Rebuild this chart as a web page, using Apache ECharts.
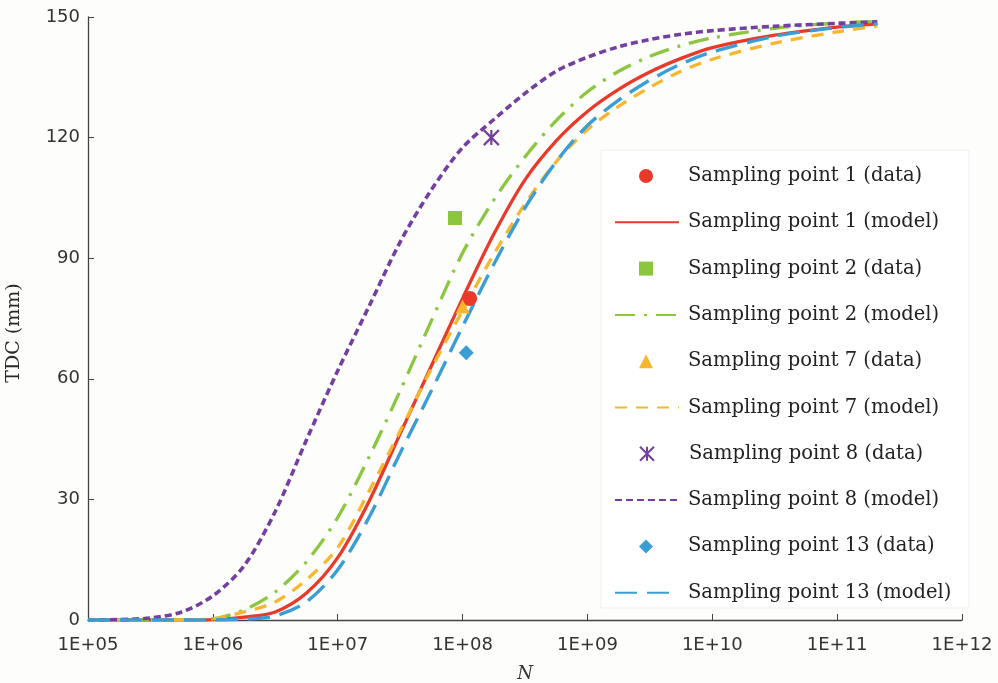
<!DOCTYPE html>
<html>
<head>
<meta charset="utf-8">
<script src="https://cdn.jsdelivr.net/npm/echarts@6/dist/echarts.min.js"></script>
<style>
html,body{margin:0;padding:0;background:#fdfdfb;}
#chart{width:998px;height:683px;}
</style>
</head>
<body>
<div id="chart"></div>
<script>
// Cycle counts N (log-spaced grid of model curves)
var modelN = [1e5, 1.78e5, 3.16e5, 5.62e5, 1e6, 1.78e6, 3.16e6, 5.62e6, 1e7, 1.78e7, 3.16e7, 5.62e7,
              1e8, 1.78e8, 3.16e8, 5.62e8, 1e9, 1.78e9, 3.16e9, 5.62e9, 1e10, 3.16e10, 1e11, 2.1e11];
// Model TDC (mm)
var sp1Model  = [0, 0, 0, 0, 0.1, 0.7, 2, 6.7, 15.5, 29.5, 46.3, 63.2, 80, 96, 109.5, 119.2, 126.5, 132, 136.3, 139.7, 142.4, 145.5, 147.5, 148.3];
var sp2Model  = [0, 0, 0, 0, 0.3, 2.5, 7, 14.5, 25.5, 40.5, 57, 74.4, 91.3, 104.5, 115.2, 124.2, 131.4, 136.5, 140.2, 142.9, 144.8, 147.2, 148.5, 148.9];
var sp7Model  = [0, 0, 0, 0, 0.3, 2, 4.5, 10, 18, 32, 47, 62.5, 77, 91, 103.5, 114, 122, 127.8, 132.5, 136.5, 139.5, 143.5, 146.3, 147.8];
var sp8Model  = [0, 0.1, 0.5, 2, 6, 13.5, 27, 44.8, 62, 78, 94, 107, 117.5, 124.5, 131, 136.5, 140, 142.6, 144.4, 145.7, 146.6, 147.7, 148.4, 148.8];
var sp13Model = [0, 0, 0, 0, 0, 0.2, 1, 4.5, 12.5, 25.5, 41.5, 57, 73, 88.5, 102.5, 114, 123, 129.3, 134.3, 138.3, 141.3, 145.2, 147.4, 148.3];
// Measured data points [N, TDC]
var sp1Data  = [[1.14e8, 80]];
var sp2Data  = [[8.7e7, 100]];
var sp7Data  = [[1.0e8, 78]];
var sp8Data  = [[1.7e8, 120]];
var sp13Data = [[1.07e8, 66.5]];
// Axis ticks
var yTicks = [0, 30, 60, 90, 120, 150];
var seriesNames = ['Sampling point 1 (data)','Sampling point 1 (model)','Sampling point 2 (data)','Sampling point 2 (model)',
                   'Sampling point 7 (data)','Sampling point 7 (model)','Sampling point 8 (data)','Sampling point 8 (model)',
                   'Sampling point 13 (data)','Sampling point 13 (model)'];

var C = {red:'#e8392b', green:'#8cc63e', yellow:'#f6b72e', purple:'#7440a0', blue:'#3a9ed4'};

function pairs(arr){ return modelN.map(function(n,i){ return [n, arr[i]]; }); }

function modelSeries(name, arr, color, type, width){
  return {name:name, type:'line', data:pairs(arr), symbol:'none', smooth:0.3,
    lineStyle:{color:color, width:width, type:type, cap:'butt'}, itemStyle:{color:color}, z:3};
}
function dataSeries(name, arr, color, symbol, size, extra){
  var s = {name:name, type:'scatter', data:arr, symbol:symbol, symbolSize:size,
    itemStyle:{color:color, opacity:1}, z:5};
  if (extra) s.itemStyle = extra;
  return s;
}
var asterisk = 'path://M0,0 L10,10 M10,0 L0,10 M5,0 L5,10';

// one legend per row so that markers keep their shapes
var legends = seriesNames.map(function(name, i){
  var isData = i % 2 === 0;
  var cy = 176 + i * 46.3;
  var item = {name:name};
  if (!isData) item.itemStyle = {opacity:0};
  return {
    orient:'vertical', left: isData ? 639 : 614, top: cy - 10, padding:0,
    itemWidth: isData ? 14 : 64, itemHeight:14,
    textStyle:{fontFamily:'DejaVu Serif', fontSize:19.5, color:'#222', lineHeight:20,
               padding:[0,0,0, isData ? 30 : 4]},
    selectedMode:false,
    data:[item]
  };
});

var chart = echarts.init(document.getElementById('chart'), null, {renderer:'canvas'});
chart.setOption({
  backgroundColor:'#fdfdfb',
  animation:false,
  grid:{left:88, right:36, top:17, bottom:63, containLabel:false, outerBoundsMode:'none'},
  graphic:[
    {type:'rect', shape:{x:601, y:150, width:368, height:458}, z:0,
     style:{fill:'#ffffff', stroke:'#efefea', lineWidth:1}},
    {type:'text', x:14, y:333, rotation:Math.PI/2,
     style:{text:'TDC (mm)', font:'19px "DejaVu Serif"', fill:'#2a2a2a', align:'center', verticalAlign:'middle'}}
  ],
  xAxis:{
    type:'log', logBase:10, min:1e5, max:1e12,
    name:'N', nameLocation:'middle', nameGap:45,
    nameTextStyle:{fontFamily:'DejaVu Serif', fontStyle:'italic', fontSize:18, color:'#333'},
    axisLine:{lineStyle:{color:'#444', width:1.3}},
    axisTick:{inside:true, length:6, lineStyle:{color:'#444'}},
    minorTick:{show:false},
    splitLine:{show:false},
    axisLabel:{fontFamily:'DejaVu Sans', fontSize:18, color:'#333', margin:16,
      formatter:function(v){ var e=Math.round(Math.log10(v)); return '1E+' + (e<10?'0'+e:e); }}
  },
  yAxis:{
    type:'value', min:yTicks[0], max:yTicks[yTicks.length-1], interval:30,
    axisLine:{show:true, lineStyle:{color:'#444', width:1.3}},
    axisTick:{show:true, inside:true, length:6, lineStyle:{color:'#444'}},
    splitLine:{show:false},
    axisLabel:{fontFamily:'DejaVu Sans', fontSize:18, color:'#333', margin:8}
  },
  legend:legends,
  series:[
    dataSeries(seriesNames[0], sp1Data, C.red, 'circle', 15),
    modelSeries(seriesNames[1], sp1Model, C.red, 'solid', 3.3),
    dataSeries(seriesNames[2], sp2Data, C.green, 'rect', 14),
    modelSeries(seriesNames[3], sp2Model, C.green, [20,9,3,9], 3.3),
    dataSeries(seriesNames[4], sp7Data, C.yellow, 'triangle', 14),
    modelSeries(seriesNames[5], sp7Model, C.yellow, [12,9], 3.3),
    dataSeries(seriesNames[6], sp8Data, C.purple, asterisk, 15,
      {color:C.purple, borderColor:C.purple, borderWidth:2.2, opacity:1}),
    modelSeries(seriesNames[7], sp8Model, C.purple, [7,4], 3.6),
    dataSeries(seriesNames[8], sp13Data, C.blue, 'diamond', 15),
    modelSeries(seriesNames[9], sp13Model, C.blue, [22,10], 3.4)
  ]
});
</script>
</body>
</html>
